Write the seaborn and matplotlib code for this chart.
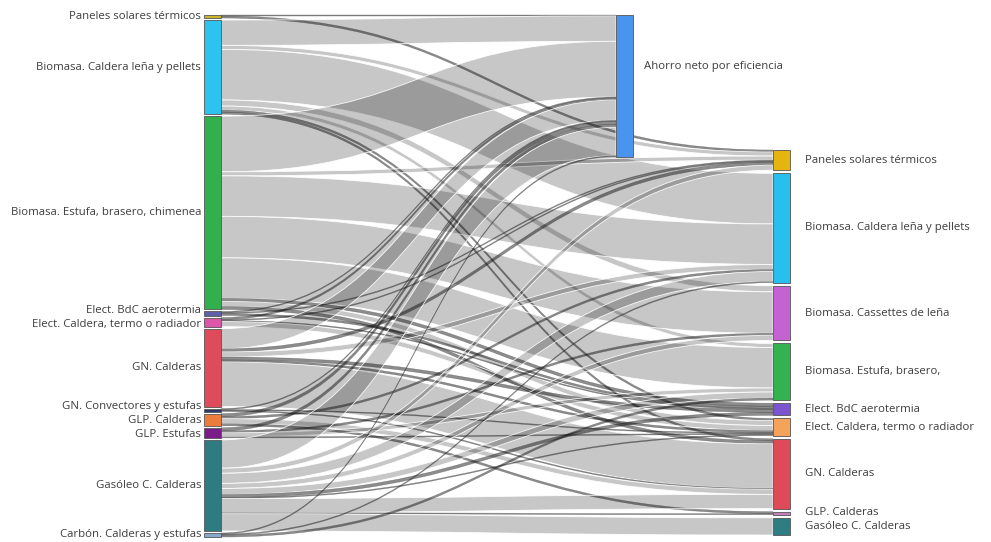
import matplotlib
matplotlib.use("Agg")
import matplotlib.pyplot as plt
from matplotlib.path import Path
from matplotlib.patches import PathPatch, Rectangle
import seaborn as sns

sns.set_theme(style="white")
plt.rcParams['font.family'] = ['Open Sans', 'DejaVu Sans']

# sistema actual (columna izquierda)
origen = ["Paneles solares térmicos", "Biomasa. Caldera leña y pellets",
          "Biomasa. Estufa, brasero, chimenea", "Elect. BdC aerotermia",
          "Elect. Caldera, termo o radiador", "GN. Calderas", "GN. Convectores y estufas",
          "GLP. Calderas", "GLP. Estufas", "Gasóleo C. Calderas", "Carbón. Calderas y estufas"]
origen_color = ["#C9B42A", "#2CC3EE", "#33B04E", "#5E5FA8", "#DE56A8", "#DE4B5B",
                "#2B3868", "#EC7C3C", "#7B1C8C", "#2E7C82", "#86A9CB"]

# destino: 0 = ahorro, resto = sistema nuevo (columna derecha)
destino = ["Ahorro neto por eficiencia", "Paneles solares térmicos",
           "Biomasa. Caldera leña y pellets", "Biomasa. Cassettes de leña",
           "Biomasa. Estufa, brasero,", "Elect. BdC aerotermia",
           "Elect. Caldera, termo o radiador", "GN. Calderas", "GLP. Calderas",
           "Gasóleo C. Calderas"]
destino_color = ["#4A94F0", "#E3B50E", "#27C0EE", "#C462D2", "#33B24F", "#7B55D0",
                 "#F5A25A", "#DE4A58", "#C77DBF", "#2E7D82"]

# flujos (origen, destino, valor)
enlace_origen = [0, 0,
                 1, 1, 1, 1, 1, 1, 1,
                 2, 2, 2, 2, 2, 2, 2, 2,
                 3, 3, 3,
                 4, 4, 4, 4,
                 5, 5, 5, 5, 5, 5,
                 6, 6, 6,
                 7, 7, 7, 7,
                 8, 8, 8, 8,
                 9, 9, 9, 9, 9, 9, 9, 9, 9, 9,
                 10, 10, 10]
enlace_destino = [0, 1,
                  0, 1, 2, 3, 4, 6, 7,
                  0, 1, 2, 3, 4, 5, 6, 7,
                  0, 1, 5,
                  0, 1, 5, 6,
                  0, 1, 2, 5, 6, 7,
                  0, 6, 7,
                  0, 2, 7, 8,
                  0, 3, 4, 6,
                  0, 1, 2, 3, 4, 5, 6, 7, 8, 9,
                  0, 2, 4]
enlace_valor = [1, 2,
                25, 4, 50, 6, 4, 2, 2,
                55, 4, 40, 41, 40, 3, 5, 3,
                1, 1, 2,
                2, 1, 1, 5,
                20, 3, 5, 3, 2, 44,
                1, 1, 1,
                3, 2, 5, 2,
                3, 2, 4, 1,
                28, 5, 10, 5, 6, 3, 1, 14, 1, 17,
                1, 1, 2]

# --- layout ---
W, H = 991, 542
NODE_W = 17
X_LEFT, X_MID, X_RIGHT = 204, 616, 773
LEFT_TOP, LEFT_BOT = 15, 537
RIGHT_TOP, RIGHT_BOT = 150, 535

n_o, n_d = len(origen), len(destino)
val_o = [0] * n_o
val_d = [0] * n_d
for s, t, v in zip(enlace_origen, enlace_destino, enlace_valor):
    val_o[s] += v
    val_d[t] += v

gap_l = 2.0
ky = (LEFT_BOT - LEFT_TOP - gap_l * (n_o - 1)) / sum(val_o)

y_o = []
y = LEFT_TOP
for v in val_o:
    y_o.append(y)
    y += v * ky + gap_l

y_d = [LEFT_TOP]
gap_r = (RIGHT_BOT - RIGHT_TOP - ky * sum(val_d[1:])) / (n_d - 2)
y = RIGHT_TOP
for v in val_d[1:]:
    y_d.append(y)
    y += v * ky + gap_r
x_d = [X_MID] + [X_RIGHT] * (n_d - 1)

fig = plt.figure(figsize=(W / 100, H / 100), dpi=100)
ax = fig.add_axes([0, 0, 1, 1])
ax.set_xlim(0, W)
ax.set_ylim(H, 0)
ax.axis("off")

links = list(zip(enlace_origen, enlace_destino, enlace_valor))
centro_d = [y_d[i] + val_d[i] * ky / 2 for i in range(n_d)]
centro_o = [y_o[i] + val_o[i] * ky / 2 for i in range(n_o)]

# posiciones de salida / llegada de cada flujo
off_o = {}
for s in range(n_o):
    y = y_o[s]
    for k in sorted([i for i, l in enumerate(links) if l[0] == s], key=lambda i: centro_d[links[i][1]]):
        off_o[k] = y
        y += links[k][2] * ky
off_d = {}
for t in range(n_d):
    y = y_d[t]
    for k in sorted([i for i, l in enumerate(links) if l[1] == t], key=lambda i: centro_o[links[i][0]]):
        off_d[k] = y
        y += links[k][2] * ky

for k, (s, t, v) in enumerate(links):
    x0 = X_LEFT + NODE_W
    x1 = x_d[t]
    xm = (x0 + x1) / 2
    h = v * ky
    a0, a1 = off_o[k], off_d[k]
    verts = [(x0, a0), (xm, a0), (xm, a1), (x1, a1),
             (x1, a1 + h), (xm, a1 + h), (xm, a0 + h), (x0, a0 + h), (x0, a0)]
    codes = [Path.MOVETO, Path.CURVE4, Path.CURVE4, Path.CURVE4,
             Path.LINETO, Path.CURVE4, Path.CURVE4, Path.CURVE4, Path.CLOSEPOLY]
    if v <= 3:
        patch = PathPatch(Path(verts, codes), facecolor=(0, 0, 0, 0.45),
                          edgecolor=(0.25, 0.25, 0.25, 0.45), lw=0.4, zorder=1)
    else:
        patch = PathPatch(Path(verts, codes), facecolor=(0, 0, 0, 0.22),
                          edgecolor=(1, 1, 1, 0.9), lw=0.6, zorder=1)
    ax.add_patch(patch)


def separar(pos, minimo=14.0):
    # separa etiquetas demasiado próximas
    pos = list(pos)
    for _ in range(50):
        for i in range(1, len(pos)):
            d = pos[i] - pos[i - 1]
            if d < minimo:
                pos[i - 1] -= (minimo - d) / 2
                pos[i] += (minimo - d) / 2
    return pos


txt = dict(fontsize=8.2, color="#3d3d3d", va="center")
lab_o = separar(centro_o)
for i in range(n_o):
    ax.add_patch(Rectangle((X_LEFT, y_o[i]), NODE_W, val_o[i] * ky, facecolor=origen_color[i],
                           edgecolor="#555555", lw=0.6, zorder=3))
    ax.text(X_LEFT - 3, lab_o[i], origen[i], ha="right", **txt)

lab_d = [centro_d[0]] + separar(centro_d[1:])
for i in range(n_d):
    ax.add_patch(Rectangle((x_d[i], y_d[i]), NODE_W, val_d[i] * ky, facecolor=destino_color[i],
                           edgecolor="#555555", lw=0.6, zorder=3))
    if i == 0:
        ax.text(x_d[i] + NODE_W + 11, y_d[i] + val_d[i] * ky * 0.36, destino[i], ha="left", **txt)
    else:
        ax.text(x_d[i] + NODE_W + 15, lab_d[i], destino[i], ha="left", **txt)

fig.savefig("out.png", dpi=100)
